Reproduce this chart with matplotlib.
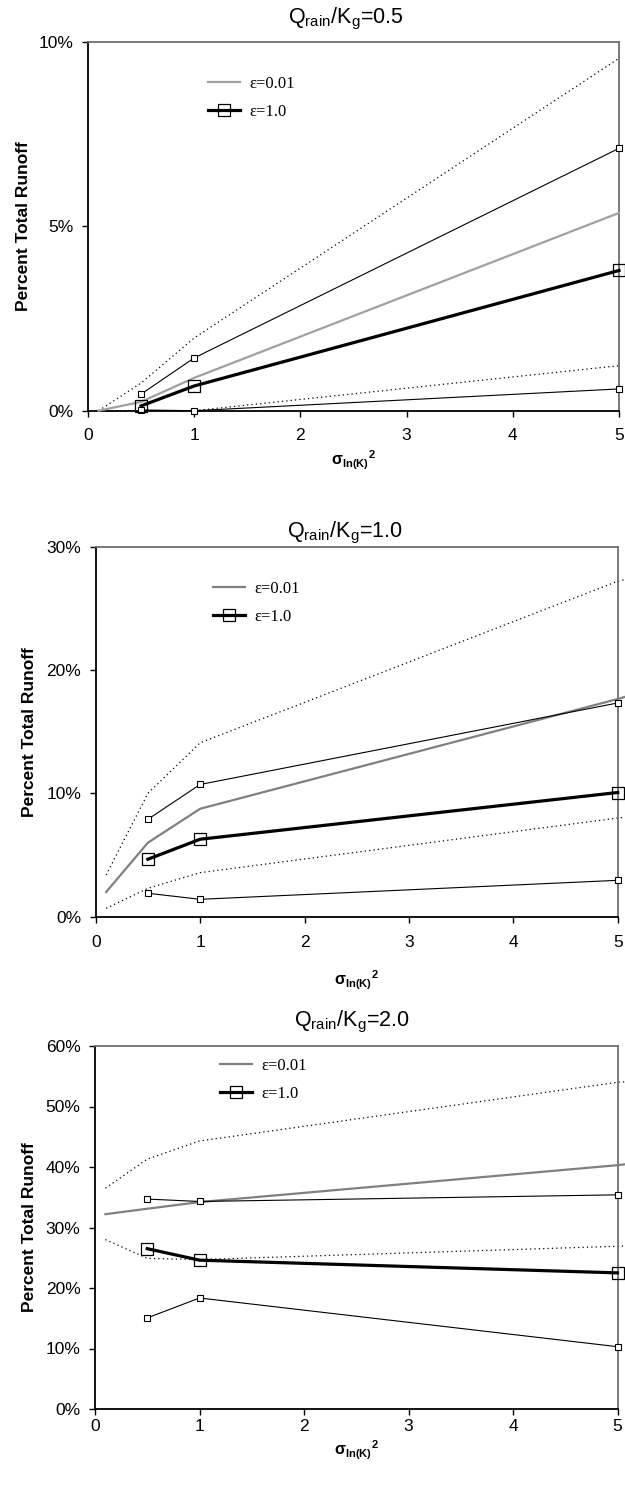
import matplotlib
matplotlib.use("Agg")
import matplotlib.pyplot as plt
from matplotlib.lines import Line2D
from matplotlib.ticker import FuncFormatter

plt.rcParams['font.family'] = ['Liberation Sans', 'DejaVu Sans']
plt.rcParams['mathtext.fontset'] = 'dejavusans'

W, H = 625, 1492

# ---------------- data (percent of total runoff) ----------------
x_curve = [0.1, 0.5, 1, 5]
x_curve_ext = [0.1, 0.5, 1, 5, 5.1]
x_obs = [0.5, 1, 5]

# Q_rain/K_g = 0.5
p1_eps001 = [0.0, 0.24, 0.89, 5.36]
p1_dot_hi = [0.0, 0.75, 1.97, 9.55]
p1_dot_lo = [0.0, 0.0, 0.0, 1.22]
p1_eps1 = [0.13, 0.67, 3.80]
p1_upper = [0.45, 1.43, 7.11]
p1_lower = [0.02, 0.0, 0.59]

# Q_rain/K_g = 1.0
p2_eps001 = [2.0, 6.0, 8.75, 17.65, 17.9]
p2_dot_hi = [3.38, 10.0, 14.1, 27.2, 27.4]
p2_dot_lo = [0.68, 2.3, 3.57, 8.0, 8.1]
p2_eps1 = [4.66, 6.28, 10.07]
p2_upper = [7.9, 10.72, 17.33]
p2_lower = [1.9, 1.41, 2.95]

# Q_rain/K_g = 2.0
p3_eps001 = [32.2, 33.1, 34.2, 40.3, 40.5]
p3_dot_hi = [36.5, 41.3, 44.3, 54.0, 54.1]
p3_dot_lo = [28.0, 24.9, 24.7, 26.9, 26.95]
p3_eps1 = [26.5, 24.6, 22.5]
p3_upper = [34.7, 34.3, 35.4]
p3_lower = [15.05, 18.35, 10.3]

titles = ['0.5', '1.0', '2.0']
y_ticks = [[0, 5, 10], [0, 10, 20, 30], [0, 10, 20, 30, 40, 50, 60]]
x_ticks = [0, 1, 2, 3, 4, 5]
legend_labels = ['\u03b5=0.01', '\u03b5=1.0']

# ---------------- layout (pixels) ----------------
# left, right, top, bottom of plot area
boxes = [(88, 619, 41.7, 410.7), (95.7, 617.7, 546.7, 916.7), (95, 617.5, 1046, 1409)]
title_pos = [(346, 19), (345, 533), (351.5, 1022)]
ylabel_x = [23.5, 30, 30]
xlabel_y = [460, 980, 1450]
xtick_pad = [8, 8.6, 2.8]
legend_pos = [(208, 75.5), (213, 580.5), (220, 1057.5)]
gray_cols = ['#a0a0a0', '#808080', '#808080']

panels = [
    (x_curve, p1_eps001, p1_dot_hi, p1_dot_lo, p1_eps1, p1_upper, p1_lower),
    (x_curve_ext, p2_eps001, p2_dot_hi, p2_dot_lo, p2_eps1, p2_upper, p2_lower),
    (x_curve_ext, p3_eps001, p3_dot_hi, p3_dot_lo, p3_eps1, p3_upper, p3_lower),
]

fig = plt.figure(figsize=(W / 100, H / 100), dpi=100)

for i, (xc, eps001, dhi, dlo, eps1, upper, lower) in enumerate(panels):
    l, r, t, b = boxes[i]
    ax = fig.add_axes([l / W, 1 - b / H, (r - l) / W, (b - t) / H])

    dot = (0, (1, 2.5))
    ax.plot(xc, dhi, color='black', lw=0.9, ls=dot, clip_on=False, zorder=2)
    ax.plot(xc, dlo, color='black', lw=0.9, ls=dot, clip_on=False, zorder=2)
    ax.plot(xc, eps001, color=gray_cols[i], lw=1.6, clip_on=False, zorder=3)
    ax.plot(x_obs, upper, color='black', lw=0.8, marker='s', ms=5,
            mfc='white', mec='black', mew=0.8, clip_on=False, zorder=4)
    ax.plot(x_obs, lower, color='black', lw=0.8, marker='s', ms=5,
            mfc='white', mec='black', mew=0.8, clip_on=False, zorder=4)
    ax.plot(x_obs, eps1, color='black', lw=2.3, marker='s', ms=8.5,
            mfc='none', mec='black', mew=0.9, clip_on=False, zorder=5)

    ax.set_xlim(0, 5)
    ax.set_ylim(0, y_ticks[i][-1])
    ax.set_xticks(x_ticks)
    ax.set_yticks(y_ticks[i])
    ax.yaxis.set_major_formatter(FuncFormatter(lambda v, p: '%d%%' % v))
    ax.tick_params(axis='both', direction='out', length=4.5, width=1,
                   labelsize=12.5, color='black')
    ax.tick_params(axis='x', pad=xtick_pad[i])
    ax.tick_params(axis='y', pad=6)
    for s in ['left', 'bottom']:
        ax.spines[s].set_color('black')
        ax.spines[s].set_linewidth(1.3)
    for s in ['top', 'right']:
        ax.spines[s].set_color('#707070')
        ax.spines[s].set_linewidth(1.3)

    handles = [
        Line2D([], [], color=gray_cols[i], lw=1.6),
        Line2D([], [], color='black', lw=2.3, marker='s', ms=8, mfc='none',
               mec='black', mew=0.9),
    ]
    lx, ly = legend_pos[i]
    ax.legend(handles, legend_labels, loc='upper left',
              bbox_to_anchor=(lx / W, 1 - ly / H), bbox_transform=fig.transFigure,
              frameon=False, borderpad=0, borderaxespad=0, handlelength=1.9,
              handletextpad=0.6, labelspacing=0.76, numpoints=1,
              prop={'family': 'Liberation Serif', 'size': 12})

    tx, ty = title_pos[i]
    fig.text(tx / W, 1 - ty / H, r'$\mathregular{Q_{rain}/K_g}$=' + titles[i],
             ha='center', va='center', fontsize=15.5)
    fig.text(ylabel_x[i] / W, 1 - (t + b) / 2 / H, 'Percent Total Runoff',
             rotation=90, ha='center', va='center', fontsize=12.5,
             fontweight='bold')
    fig.text((l + r) / 2 / W, 1 - xlabel_y[i] / H,
             r'$\mathregular{{\sigma_{ln(K)}}^{2}}$',
             ha='center', va='center', fontsize=11.5, fontweight='bold')

fig.savefig('out.png', dpi=100)
